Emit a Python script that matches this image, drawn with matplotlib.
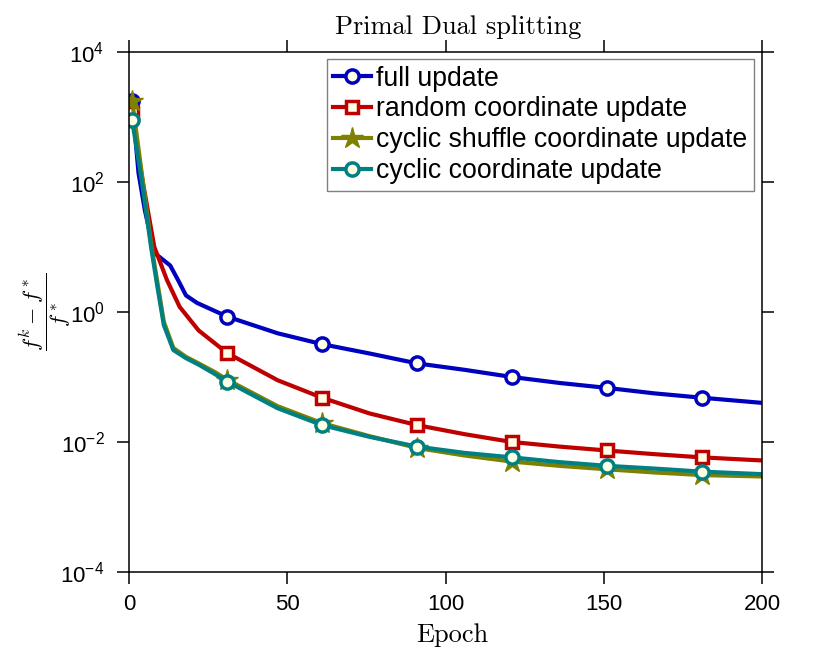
import matplotlib
matplotlib.use("Agg")
import matplotlib.pyplot as plt

# tick labels in a Helvetica-like face, labels/title in Computer Modern
plt.rcParams['font.family'] = ['Liberation Sans', 'DejaVu Sans']
plt.rcParams['mathtext.fontset'] = 'custom'
plt.rcParams['mathtext.rm'] = 'Liberation Sans'
plt.rcParams['mathtext.it'] = 'Liberation Sans:italic'
plt.rcParams['mathtext.bf'] = 'Liberation Sans:bold'

# --- data ---
epoch_full = [1, 3, 5, 8, 10, 13, 15.5, 18, 21.5, 31, 47, 61, 76, 91, 106, 121, 136, 151, 166, 181, 200]
err_full = [1740, 138, 37, 8.1, 6.8, 5.2, 3.1, 1.8, 1.38, 0.85, 0.47, 0.32, 0.23, 0.162, 0.129,
            0.100, 0.081, 0.068, 0.056, 0.048, 0.040]

epoch_rand = [1, 4, 8, 12, 16, 22, 31, 47, 61, 76, 91, 106, 121, 136, 151, 166, 181, 200]
err_rand = [1150, 126, 10, 3.1, 1.2, 0.52, 0.234, 0.089, 0.048, 0.0275, 0.0182, 0.0132,
            0.0100, 0.0085, 0.0074, 0.0065, 0.0058, 0.0052]

epoch_cyc = [1, 4, 7, 9, 11, 14, 18, 22, 27, 31, 47, 61, 76, 91, 106, 121, 136, 151, 166, 181, 200]
err_shuffle = [1780, 140, 11, 2.8, 0.71, 0.28, 0.204, 0.162, 0.12, 0.091, 0.0355, 0.0195, 0.0123,
               0.0081, 0.0062, 0.0050, 0.0043, 0.0038, 0.0034, 0.0031, 0.00295]
err_cyclic = [890, 107, 9.8, 2.4, 0.63, 0.26, 0.195, 0.155, 0.112, 0.085, 0.033, 0.0182, 0.012,
              0.0085, 0.0068, 0.0058, 0.0049, 0.0043, 0.0039, 0.0035, 0.0032]

marker_epochs = [1, 31, 61, 91, 121, 151, 181]
labels = ['full update', 'random coordinate update',
          'cyclic shuffle coordinate update', 'cyclic coordinate update']

FACE = '#ffffe6'
LW = 3.0


def mark_idx(epochs):
    return [i for i, e in enumerate(epochs) if e in marker_epochs]


fig = plt.figure(figsize=(8.3, 6.69), dpi=100)
ax = fig.add_axes([129 / 830, 1 - 572 / 669, 633 / 830, 520 / 669])

ax.semilogy(epoch_full, err_full, color='#0000bf', lw=LW, marker='o', ms=9.5, mew=2.5,
            mfc=FACE, mec='#0000bf', markevery=mark_idx(epoch_full), label=labels[0])
ax.semilogy(epoch_rand, err_rand, color='#bf0000', lw=LW, marker='s', ms=8.5, mew=2.5,
            mfc=FACE, mec='#bf0000', markevery=mark_idx(epoch_rand), label=labels[1])
ax.semilogy(epoch_cyc, err_shuffle, color='#808000', lw=LW, marker='*', ms=16, mew=1,
            mfc='#808000', mec='#808000', markevery=mark_idx(epoch_cyc), label=labels[2])
ax.semilogy(epoch_cyc, err_cyclic, color='#008080', lw=LW, marker='o', ms=9.5, mew=2.5,
            mfc=FACE, mec='#008080', markevery=mark_idx(epoch_cyc), label=labels[3])

ax.set_xlim(0, 200)
ax.set_ylim(1e-4, 1e4)
ax.set_xticks([0, 50, 100, 150, 200])
ax.set_yticks([1e-4, 1e-2, 1e0, 1e2, 1e4])
ax.yaxis.set_minor_locator(matplotlib.ticker.NullLocator())

ax.tick_params(direction='out', length=8.6, width=1.1, labelsize=16,
               top=True, right=True, pad=7)
ax.tick_params(axis='y', pad=9)
for sp in ax.spines.values():
    sp.set_linewidth(1.1)

ax.set_title('Primal Dual splitting', fontfamily='cmr10', fontsize=19, pad=13, x=0.52)
ax.set_xlabel('Epoch', fontfamily='cmr10', fontsize=19, labelpad=6)
ax.xaxis.label.set_x(0.51)
ax.set_ylabel(r'$\dfrac{f^k - f^*}{f^*}$', fontsize=16, labelpad=-9, math_fontfamily='cm')

leg = ax.legend(loc='upper right', bbox_to_anchor=(0.987, 0.9865), borderaxespad=0,
                fontsize=19.2, fancybox=False, edgecolor='#808080', framealpha=1,
                borderpad=0.25, labelspacing=0.18, handlelength=1.4, handletextpad=0.2)
leg.get_frame().set_linewidth(1.0)

fig.savefig('out.png', dpi=100)
